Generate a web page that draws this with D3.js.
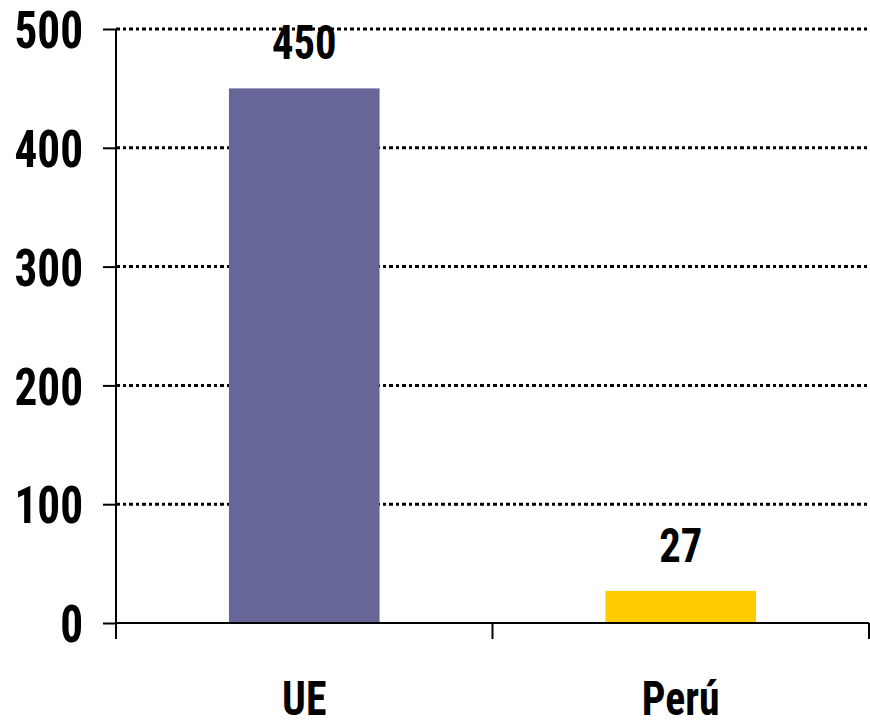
<!DOCTYPE html>
<html>
<head>
<meta charset="utf-8">
<script src="https://cdn.jsdelivr.net/npm/d3@7"></script>
<style>
    html, body { margin: 0; padding: 0; background: #fff; }
    svg text { font-family: "Liberation Sans Narrow", "Arial Narrow", "Roboto Condensed", sans-serif; font-weight: bold; fill: #000; }
</style>
</head>
<body>
<svg id="chart" width="870" height="726"></svg>
<script>
(function() {
    'use strict';

    var categories = ['UE', 'Perú'];
    var values = [450, 27];
    var colors = ['#666699', '#FFCC00'];
    var yTicks = [0, 100, 200, 300, 400, 500];

    var left = 116, right = 869, top = 29, bottom = 623;
    var narrow = 0.87;
    var svg = d3.select('#chart');

    // squeeze text horizontally round its own anchor
    function squeeze(sel) {
        sel.each(function() {
            var t = d3.select(this);
            var tx = +t.attr('x') || 0;
            t.attr('transform', 'translate(' + tx + ',0) scale(' + narrow + ',1) translate(' + (-tx) + ',0)');
        });
    }

    var x = d3.scaleBand()
        .domain(categories)
        .range([left, right])
        .paddingInner(0.6)
        .paddingOuter(0.3);
    var step = x.step();

    var y = d3.scaleLinear()
        .domain([0, 500])
        .range([bottom, top]);

    //dotted grid lines
    svg.append('g')
        .selectAll('line')
        .data(yTicks.filter(function(d) { return d > 0; }))
        .enter()
        .append('line')
        .attr('x1', left)
        .attr('x2', right)
        .attr('y1', function(d) { return y(d); })
        .attr('y2', function(d) { return y(d); })
        .attr('stroke', '#000')
        .attr('stroke-width', 3)
        .attr('stroke-dasharray', '4,3,3,3');

    //bars
    svg.append('g')
        .selectAll('rect')
        .data(values)
        .enter()
        .append('rect')
        .attr('x', function(d, i) { return x(categories[i]); })
        .attr('y', function(d) { return y(d); })
        .attr('width', x.bandwidth())
        .attr('height', function(d) { return y(0) - y(d); })
        .attr('fill', function(d, i) { return colors[i]; });

    //value labels
    svg.append('g')
        .selectAll('text')
        .data(values)
        .enter()
        .append('text')
        .attr('x', function(d, i) { return x(categories[i]) + x.bandwidth() / 2; })
        .attr('y', function(d) { return y(d) - 29; })
        .attr('text-anchor', 'middle')
        .style('font-size', '49px')
        .text(function(d) { return d; })
        .call(squeeze);

    //y axis
    var yAxis = svg.append('g')
        .attr('transform', 'translate(' + left + ',0)')
        .call(d3.axisLeft(y).tickValues(yTicks).tickSize(13).tickPadding(20));
    yAxis.selectAll('line, path').attr('stroke', '#000').attr('stroke-width', 2);
    yAxis.select('.domain').attr('d', 'M0,' + top + 'V' + bottom);
    yAxis.selectAll('text')
        .attr('dy', '0.36em')
        .style('font-size', '52px')
        .call(squeeze);

    //x axis
    var xAxis = svg.append('g')
        .attr('transform', 'translate(0,' + bottom + ')')
        .call(d3.axisBottom(x).tickSize(0).tickPadding(58));
    xAxis.select('.domain').attr('d', 'M' + left + ',0H' + right).attr('stroke', '#000').attr('stroke-width', 2);
    xAxis.selectAll('text')
        .attr('dy', '0.71em')
        .style('font-size', '48px')
        .call(squeeze);

    //category boundary ticks
    var bounds = d3.range(categories.length + 1).map(function(i) { return left + step * i; });
    xAxis.selectAll('.bound')
        .data(bounds)
        .enter()
        .append('line')
        .attr('class', 'bound')
        .attr('x1', function(d) { return d; })
        .attr('x2', function(d) { return d; })
        .attr('y1', 0)
        .attr('y2', 16)
        .attr('stroke', '#000')
        .attr('stroke-width', 2);
})();
</script>
</body>
</html>
